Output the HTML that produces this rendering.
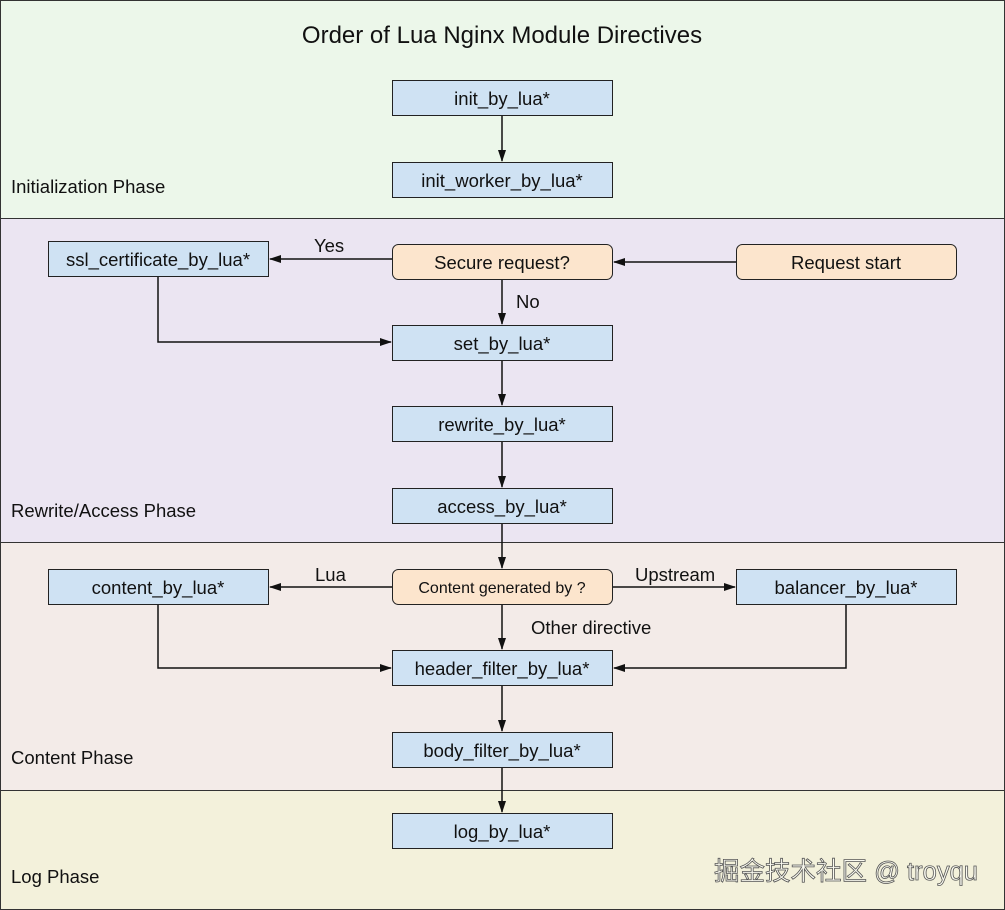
<!DOCTYPE html>
<html><head><meta charset="utf-8"><style>
html,body{margin:0;padding:0;background:#fff}
svg{display:block}
text{font-family:"Liberation Sans",Arial,sans-serif;fill:#111}
</style></head><body>
<svg width="1005" height="910" viewBox="0 0 1005 910" xmlns="http://www.w3.org/2000/svg">
<defs>
<marker id="a" markerWidth="12" markerHeight="10" refX="11" refY="5" orient="auto" markerUnits="userSpaceOnUse">
<path d="M0,1 L12,5 L0,9 Z" fill="#111"/></marker>
</defs>
<rect x="0.5" y="0.5" width="1004" height="218" fill="#ecf7ea" stroke="#333"/>
<rect x="0.5" y="218.5" width="1004" height="324" fill="#ebe5f2" stroke="#333"/>
<rect x="0.5" y="542.5" width="1004" height="248" fill="#f3ebe8" stroke="#333"/>
<rect x="0.5" y="790.5" width="1004" height="119" fill="#f3f1db" stroke="#333"/>

<text x="502" y="43" font-size="24" text-anchor="middle">Order of Lua Nginx Module Directives</text>
<g font-size="18.5">
<text x="11" y="193">Initialization Phase</text>
<text x="11" y="517">Rewrite/Access Phase</text>
<text x="11" y="764">Content Phase</text>
<text x="11" y="883">Log Phase</text>
</g>

<g stroke="#222" stroke-width="1" fill="#cfe2f3">
<rect x="392.5" y="80.5" width="220" height="35"/>
<rect x="392.5" y="162.5" width="220" height="35"/>
<rect x="48.5" y="241.5" width="220" height="35"/>
<rect x="392.5" y="325.5" width="220" height="35"/>
<rect x="392.5" y="406.5" width="220" height="35"/>
<rect x="392.5" y="488.5" width="220" height="35"/>
<rect x="48.5" y="569.5" width="220" height="35"/>
<rect x="736.5" y="569.5" width="220" height="35"/>
<rect x="392.5" y="650.5" width="220" height="35"/>
<rect x="392.5" y="732.5" width="220" height="35"/>
<rect x="392.5" y="813.5" width="220" height="35"/>
</g>
<g stroke="#222" stroke-width="1" fill="#fce5cd">
<rect x="392.5" y="244.5" width="220" height="35" rx="6"/>
<rect x="736.5" y="244.5" width="220" height="35" rx="6"/>
<rect x="392.5" y="569.5" width="220" height="35" rx="6"/>
</g>

<g font-size="18.5" text-anchor="middle">
<text x="502" y="105">init_by_lua*</text>
<text x="502" y="187">init_worker_by_lua*</text>
<text x="158" y="266">ssl_certificate_by_lua*</text>
<text x="502" y="269">Secure request?</text>
<text x="846" y="269">Request start</text>
<text x="502" y="350">set_by_lua*</text>
<text x="502" y="431">rewrite_by_lua*</text>
<text x="502" y="513">access_by_lua*</text>
<text x="158" y="594">content_by_lua*</text>
<text x="502" y="593" font-size="16">Content generated by ?</text>
<text x="846" y="594">balancer_by_lua*</text>
<text x="502" y="675">header_filter_by_lua*</text>
<text x="502" y="757">body_filter_by_lua*</text>
<text x="502" y="838">log_by_lua*</text>
</g>
<g font-size="18.5">
<text x="314" y="252">Yes</text>
<text x="516" y="308">No</text>
<text x="315" y="581">Lua</text>
<text x="635" y="581">Upstream</text>
<text x="531" y="634">Other directive</text>
</g>

<g stroke="#111" stroke-width="1.5" fill="none">
<line x1="502" y1="116" x2="502" y2="161" marker-end="url(#a)"/>
<line x1="736" y1="262" x2="614" y2="262" marker-end="url(#a)"/>
<line x1="392" y1="259" x2="270" y2="259" marker-end="url(#a)"/>
<line x1="502" y1="280" x2="502" y2="324" marker-end="url(#a)"/>
<polyline points="158,277 158,342 391,342" marker-end="url(#a)"/>
<line x1="502" y1="361" x2="502" y2="405" marker-end="url(#a)"/>
<line x1="502" y1="442" x2="502" y2="487" marker-end="url(#a)"/>
<line x1="502" y1="524" x2="502" y2="568" marker-end="url(#a)"/>
<line x1="392" y1="587" x2="270" y2="587" marker-end="url(#a)"/>
<line x1="613" y1="587" x2="735" y2="587" marker-end="url(#a)"/>
<line x1="502" y1="605" x2="502" y2="649" marker-end="url(#a)"/>
<polyline points="158,605 158,668 391,668" marker-end="url(#a)"/>
<polyline points="846,605 846,668 614,668" marker-end="url(#a)"/>
<line x1="502" y1="686" x2="502" y2="731" marker-end="url(#a)"/>
<line x1="502" y1="768" x2="502" y2="812" marker-end="url(#a)"/>
</g>

<text x="714" y="880" font-size="25.5" style="font-family:'Liberation Sans','Noto Sans CJK SC',sans-serif;fill:#fafaf0;stroke:#555;stroke-width:0.8">掘金技术社区 @ troyqu</text>
</svg>
</body></html>
